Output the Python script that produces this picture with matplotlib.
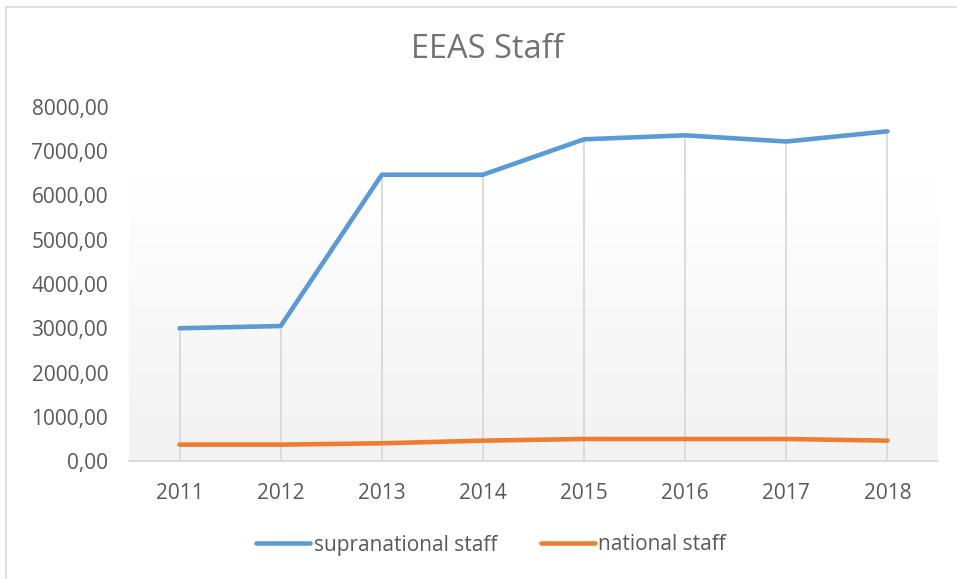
import matplotlib
matplotlib.use("Agg")
import matplotlib.pyplot as plt
import numpy as np
from matplotlib.ticker import FuncFormatter
from matplotlib.patches import Rectangle
from matplotlib.colors import LinearSegmentedColormap

years = ["2011", "2012", "2013", "2014", "2015", "2016", "2017", "2018"]
supranational = [3000, 3050, 6470, 6470, 7270, 7360, 7220, 7450]
national = [370, 370, 400, 460, 497, 497, 497, 460]

TXT = "#595959"
GRID = "#D9D9D9"
BLUE = "#5B9BD5"
ORANGE = "#ED7D31"

plt.rcParams['font.family'] = ['Open Sans', 'DejaVu Sans']

fig = plt.figure(figsize=(9.57, 5.79), dpi=100)
fig.patch.set_facecolor("white")
# chart border
fig.patches.append(Rectangle((6/957, 0 - 0.01), 1.0, 1 - 7/579 + 0.01, transform=fig.transFigure,
                             fill=False, edgecolor=GRID, linewidth=1.2))

ax = fig.add_axes([129/957, 1 - 461/579, (938 - 129)/957, (461 - 107)/579])
x = np.arange(len(years))

# gradient background
grad = np.linspace(0, 1, 256).reshape(-1, 1)
cmap = LinearSegmentedColormap.from_list("g", ["#F2F2F2", "#FFFFFF"])
ax.imshow(grad, extent=[0, 1, 0, 0.80], transform=ax.transAxes, aspect='auto',
          cmap=cmap, origin='lower', zorder=0)

# drop lines
ax.vlines(x, 0, supranational, colors=GRID, linewidth=1.3, zorder=1)

ax.plot(x, supranational, color=BLUE, linewidth=3.3, solid_capstyle='round',
        solid_joinstyle='round', label="supranational staff", zorder=3)
ax.plot(x, national, color=ORANGE, linewidth=3.3, solid_capstyle='round',
        solid_joinstyle='round', label="national staff", zorder=3)

ax.set_xlim(-0.5, len(years) - 0.5)
ax.set_ylim(0, 8000)
ax.set_yticks(np.arange(0, 8001, 1000))
ax.yaxis.set_major_formatter(FuncFormatter(lambda v, p: f"{v:.2f}".replace('.', ',')))
ax.set_xticks(x)
ax.set_xticklabels(years)
for s in ["top", "right", "left"]:
    ax.spines[s].set_visible(False)
ax.spines["bottom"].set_color(GRID)
ax.spines["bottom"].set_linewidth(1.3)
ax.tick_params(axis='both', length=0, labelsize=15, labelcolor=TXT)
ax.tick_params(axis='y', pad=15)
ax.tick_params(axis='x', pad=16)
ax.set_facecolor("none")

fig.text(487/957, 1 - 50/579, "EEAS Staff", ha='center', va='center', fontsize=23.5, color="#737373")

leg = fig.legend(loc='center', bbox_to_anchor=(491/957, 1 - 545/579), ncol=2, frameon=False,
                 fontsize=15, handlelength=2.6, columnspacing=2.1, handletextpad=0.15)
for t in leg.get_texts():
    t.set_color(TXT)

fig.savefig("out.png", dpi=100, facecolor="white")
